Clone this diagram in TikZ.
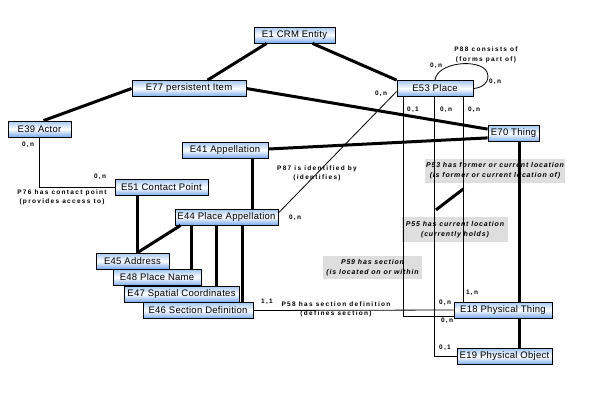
\documentclass[tikz,border=0pt]{standalone}
\usepackage{fontspec}
\setmainfont{Liberation Sans}
\newfontfamily\lblfont[LetterSpace=20]{Liberation Sans}
\newfontfamily\greyfont[LetterSpace=12]{Liberation Sans}
\newfontfamily\boxfont[LetterSpace=3]{Liberation Sans}
\usetikzlibrary{calc}
\definecolor{boxtop}{RGB}{165,200,240}
\definecolor{boxbot}{RGB}{120,170,235}
\definecolor{labgrey}{RGB}{222,222,222}
\begin{document}
\begin{tikzpicture}[x=1pt,y=-1pt,
  ebox/.style={draw=black, line width=0.8pt, top color=boxtop, bottom color=boxbot, middle color=white,
    minimum height=16pt, inner sep=0pt, font=\boxfont\fontsize{9.5}{11}\selectfont},
  thickl/.style={line width=3pt},
  thinl/.style={line width=0.8pt},
  card/.style={font=\lblfont\bfseries\fontsize{6.5}{8}\selectfont, inner sep=0pt},
  rel/.style={font=\lblfont\bfseries\fontsize{6.5}{9.5}\selectfont, align=center, inner sep=0pt},
  greylab/.style={fill=labgrey, draw=none, align=center, inner sep=0pt,
    font=\greyfont\bfseries\itshape\fontsize{7}{10}\selectfont}
]
\fill[white] (0,0) rectangle (603,418);
\useasboundingbox (0,0) rectangle (603,418);

% grey relation labels (under the lines)
\node[greylab, minimum width=140pt, minimum height=24pt] (g53) at (495,171) {P53 has former or current location\\(is former or current location of)};
\node[greylab, minimum width=106pt, minimum height=25pt] (g55) at (455,229.5) {P55 has current location\\(currently holds)};
\node[greylab, minimum width=99pt, minimum height=23pt] (g59) at (372.5,267.5) {P59 has section\\(is located on or within};

% classes
\node[ebox, minimum width=81pt] (e1) at (294.5,35) {E1 CRM Entity};
\node[ebox, minimum width=114pt] (e77) at (189,88.5) {E77 persistent Item};
\node[ebox, minimum width=63pt] (e39) at (39.5,129) {E39 Actor};
\node[ebox, minimum width=76pt] (e53) at (435,88.5) {E53 Place};
\node[ebox, minimum width=51pt] (e70) at (513.5,133.5) {E70 Thing};
\node[ebox, minimum width=86pt] (e41) at (225,150) {E41 Appellation};
\node[ebox, minimum width=93pt] (e51) at (161.5,187.5) {E51 Contact Point};
\node[ebox, minimum width=103pt] (e44) at (226.5,217) {E44 Place Appellation};
\node[ebox, minimum width=73pt] (e45) at (132.5,261) {E45 Address};
\node[ebox, minimum width=88pt] (e48) at (157,277.5) {E48 Place Name};
\node[ebox, minimum width=115pt] (e47) at (181.5,294) {E47 Spatial Coordinates};
\node[ebox, minimum width=110pt] (e46) at (198,310.5) {E46 Section Definition};
\node[ebox, minimum width=98pt] (e18) at (503,310) {E18 Physical Thing};
\node[ebox, minimum width=95pt] (e19) at (504.5,356.5) {E19 Physical Object};

% IsA (thick) links
\draw[thickl] ($(e1.south west)+(13,0)$) -- ($(e77.north west)+(76,0)$);
\draw[thickl] ($(e1.south east)+(-23,0)$) -- (e53.north west);
\draw[thickl] (e77.west) -- ($(e39.north)+(4,0)$);
\draw[thickl] (e77.east) -- ($(e70.north west)+(0,4)$);
\draw[thickl] ($(e41.east)+(0,-1)$) -- ($(e70.south west)+(0,-4)$);
\coordinate (t1) at ($(e70.south)+(5.5,0)$);
\draw[thickl] (t1) -- (t1 |- e18.north);
\coordinate (t2) at (t1 |- e18.south);
\draw[thickl] (t2) -- (t2 |- e19.north);
\coordinate (a1) at ($(e41.south)+(27,0)$);
\draw[thickl] (a1) -- (a1 |- e44.north);
\coordinate (a2) at ($(e51.south)+(-24.5,0)$);
\draw[thickl] (a2) -- (a2 |- e45.north);
\draw[thickl] ($(e44.south west)+(6,0)$) -- ($(e45.north)+(5,0)$);
\coordinate (a3) at ($(e44.south west)+(17,0)$);
\draw[thickl] (a3) -- (a3 |- e48.north);
\coordinate (a4) at ($(e44.south west)+(42,0)$);
\draw[thickl] (a4) -- (a4 |- e47.north);
\coordinate (a5) at ($(e44.south west)+(68,0)$);
\draw[thickl] (a5) -- (a5 |- e46.north);

% properties (thin)
\draw[thinl] (e39.south) |- (e51.west);
\draw[thinl] ($(e44.east)+(0,-4)$) -- ($(e53.west)+(0,3)$);
\draw[thinl] (e53.north) .. controls (437,62) and (480,58) .. (487,72) .. controls (491,82) and (482,88) .. (e53.east);
\coordinate (b1) at ($(e53.south west)+(7,0)$);
\draw[thinl] (b1) |- ($(e18.south west)+(0,-2)$);
\coordinate (b2) at ($(e53.south)+(-1,0)$);
\draw[thinl] (b2) |- (e19.west);
\coordinate (b3) at ($(e53.south east)+(-10,0)$);
\draw[thinl] (b3) -- (b3 |- e18.north);
\coordinate (d1) at ($(b2)+(2,113)$);
\coordinate (d2) at ($(b3)+(0,92)$);
\draw[thickl] (d1) -- (d2);
\draw[thinl] (e46.east) -- (e18.west);

% cardinalities and property names
\node[card] (c1) at (28,145) {0,n};
\node[card] (c2) at (100,177) {0,n};
\node[rel] (r76) at (62,197.5) {P76 has contact point\\(provides access to)};
\node[card] (c3) at (381,94) {0,n};
\node[card] (c4) at (295,218) {0,n};
\node[rel] (r87) at (317,173.5) {P87 is identified by\\(identifies)};
\node[card] (c5) at (436,66) {0,n};
\node[card] (c6) at (495,82) {0,n};
\node[rel] (r88) at (486,55) {P88 consists of\\(forms part of)};
\node[card] (c7) at (413,110) {0,1};
\node[card] (c8) at (446,110) {0,n};
\node[card] (c9) at (474,110) {0,n};
\node[card] (c10) at (267,302) {1,1};
\node[rel] (r58) at (336,309.5) {P58 has section definition\\(defines section)};
\node[card] (c11) at (445,303) {0,n};
\node[card] (c12) at (447,321) {0,n};
\node[card] (c13) at (472,293) {1,n};
\node[card] (c14) at (445,348) {0,1};
\end{tikzpicture}
\end{document}
